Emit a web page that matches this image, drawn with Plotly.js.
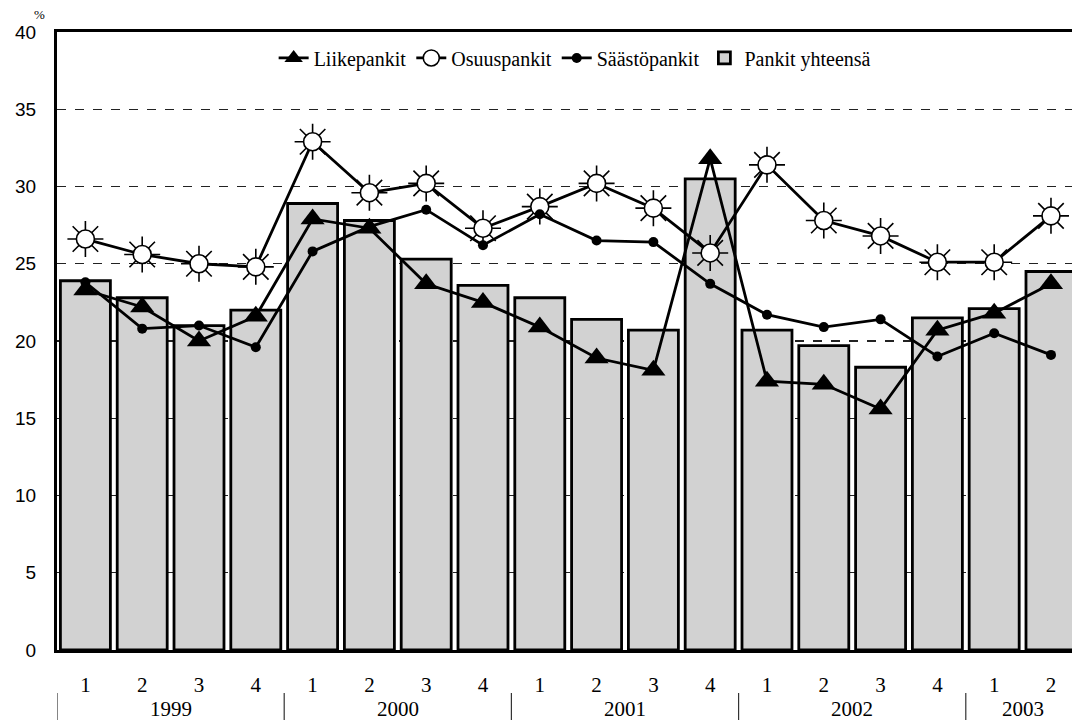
<!DOCTYPE html>
<html>
<head>
<meta charset="utf-8">
<script src="https://cdn.plot.ly/plotly-3.0.1.min.js"></script>
<style>html,body{margin:0;padding:0;background:#fff;}#chart{width:1072px;height:720px;}</style>
</head>
<body>
<div id="chart"></div>
<script>
const years = ["1999","1999","1999","1999","2000","2000","2000","2000","2001","2001","2001","2001","2002","2002","2002","2002","2003","2003"];
const quarters = ["1","2","3","4","1","2","3","4","1","2","3","4","1","2","3","4","1","2"];
const pankitYhteensa = [23.9,22.8,21.0,22.0,28.9,27.8,25.3,23.6,22.8,21.4,20.7,30.5,20.7,19.7,18.3,21.5,22.1,24.5];
const liikepankit = [23.3,22.2,20.0,21.6,27.9,27.3,23.7,22.5,20.9,18.9,18.1,31.8,17.4,17.2,15.6,20.7,21.8,23.7];
const osuuspankit = [26.6,25.6,25.0,24.8,32.9,29.6,30.2,27.3,28.7,30.2,28.6,25.7,31.4,27.8,26.8,25.1,25.1,28.1];
const saastopankit = [23.8,20.8,21.0,19.6,25.8,27.4,28.5,26.2,28.2,26.5,26.4,23.7,21.7,20.9,21.4,19.0,20.5,19.1];
const yTicks = [0,5,10,15,20,25,30,35,40];

const idx = quarters.map((q,i)=>i);
const serif = "'Liberation Serif', 'Times New Roman', serif";

const traces = [
  {type:'bar', x:idx, y:pankitYhteensa, name:'Pankit yhteensä', width:0.88,
   marker:{color:'#d2d2d2', line:{color:'#000', width:2.8}}, legendrank:4},
  {type:'scatter', mode:'markers', x:idx, y:osuuspankit, showlegend:false, hoverinfo:'skip',
   marker:{symbol:'asterisk-open', size:30, color:'#000', line:{color:'#000', width:1.6}}},
  {type:'scatter', mode:'lines+markers', x:idx, y:osuuspankit, name:'Osuuspankit', legendrank:2,
   line:{color:'#000', width:2.8},
   marker:{symbol:'circle', size:18, color:'#fff', line:{color:'#000', width:1.6}}},
  {type:'scatter', mode:'lines+markers', x:idx, y:saastopankit, name:'Säästöpankit', legendrank:3,
   line:{color:'#000', width:2.8},
   marker:{symbol:'circle', size:10, color:'#000'}},
  {type:'scatter', mode:'lines+markers', x:idx, y:liikepankit, name:'Liikepankit', legendrank:1,
   line:{color:'#000', width:2.8},
   marker:{symbol:'triangle-up', size:21, color:'#000'}}
];

// year group boundaries and centers computed from the years array
const shapes = [];
const annotations = [];
const divTop = -0.0696, divBottom = -0.12, yearY = -0.0955;
let start = 0;
for (let i = 1; i <= years.length; i++) {
  if (i === years.length || years[i] !== years[start]) {
    const center = (start + i - 1) / 2;
    annotations.push({x:center, xref:'x', y:yearY, yref:'paper', text:years[start], showarrow:false,
      font:{family:serif, size:21, color:'#000'}, xanchor:'center', yanchor:'middle'});
    if (start === 0) {
      shapes.push({type:'line', xref:'x', yref:'paper', x0:start-0.5, x1:start-0.5, y0:divTop, y1:divBottom, line:{color:'#333', width:1.2}});
    }
    if (i < years.length) {
      shapes.push({type:'line', xref:'x', yref:'paper', x0:i-0.5, x1:i-0.5, y0:divTop, y1:divBottom, line:{color:'#333', width:1.2}});
    }
    start = i;
  }
}
annotations.push({x:-0.017, xref:'paper', y:1.028, yref:'paper', text:'%', showarrow:false,
  font:{family:serif, size:13, color:'#000'}, xanchor:'center', yanchor:'middle'});

const layout = {
  width:1072, height:720,
  margin:{l:57, r:0, t:32, b:70},
  paper_bgcolor:'#fff', plot_bgcolor:'#fff',
  showlegend:true,
  legend:{orientation:'h', x:0.51, xanchor:'center', y:0.958, yanchor:'middle',
    font:{family:serif, size:20, color:'#000'}, traceorder:'normal', itemwidth:30,
    bgcolor:'rgba(0,0,0,0)', itemclick:false},
  xaxis:{range:[-0.5, 17.37], tickmode:'array', tickvals:idx, ticktext:quarters,
    showgrid:false, zeroline:false, showline:true, linecolor:'#000', linewidth:3, mirror:true,
    ticks:'', ticklabelstandoff:14, tickfont:{family:serif, size:21, color:'#000'}, fixedrange:true},
  yaxis:{range:[0,40], tickmode:'array', tickvals:yTicks, ticktext:yTicks.map(String),
    showgrid:true, gridcolor:'#222', gridwidth:1.3, griddash:'dash',
    zeroline:false, showline:true, linecolor:'#000', linewidth:3, mirror:true,
    ticks:'', ticklabelstandoff:14, tickfont:{family:"'Liberation Sans', Arial, sans-serif", size:19, color:'#000'}, fixedrange:true},
  shapes:shapes,
  annotations:annotations
};

Plotly.newPlot('chart', traces, layout, {displayModeBar:false, staticPlot:true});
</script>
</body>
</html>
